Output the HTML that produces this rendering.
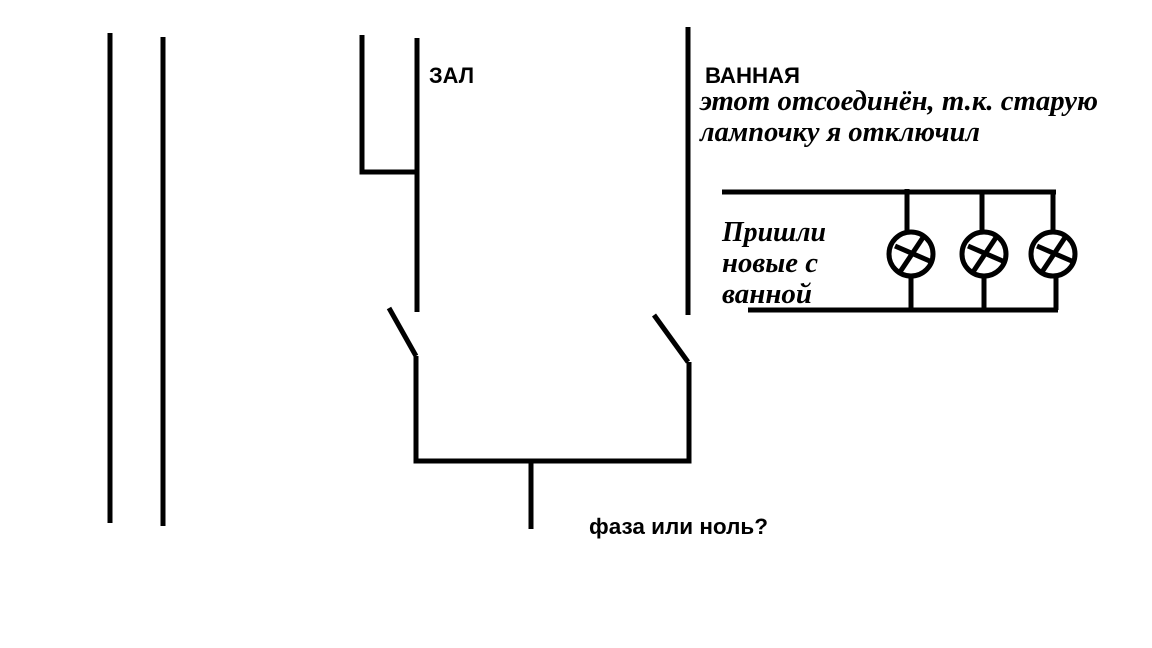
<!DOCTYPE html>
<html><head><meta charset="utf-8"><style>
html,body{margin:0;padding:0;background:#fff;width:1152px;height:648px;overflow:hidden}
</style></head><body>
<svg width="1152" height="648" xmlns="http://www.w3.org/2000/svg">
<g stroke="#000" stroke-width="5" fill="none" stroke-linecap="butt">
<line x1="110" y1="33" x2="110" y2="523"/>
<line x1="163" y1="37" x2="163" y2="526"/>
<polyline points="362,35 362,172 418,172"/>
<line x1="417" y1="38" x2="417" y2="312"/>
<line x1="688" y1="27" x2="688" y2="315"/>
<line x1="389" y1="308" x2="416" y2="356"/>
<line x1="654" y1="315" x2="688" y2="362"/>
<polyline points="416,356 416,461 689,461 689,362"/>
<line x1="531" y1="461" x2="531" y2="529"/>
<line x1="722" y1="192" x2="1056" y2="192"/>
<line x1="748" y1="310" x2="1058" y2="310"/>
<line x1="907" y1="189" x2="907" y2="232"/>
<line x1="982" y1="192" x2="982" y2="232"/>
<line x1="1053" y1="192" x2="1053" y2="232"/>
<line x1="911" y1="276" x2="911" y2="310"/>
<line x1="984" y1="276" x2="984" y2="310"/>
<line x1="1056" y1="276" x2="1056" y2="310"/>
<circle cx="911" cy="254" r="22"/>
<circle cx="984" cy="254" r="22"/>
<circle cx="1053" cy="254" r="22"/>
<line x1="895" y1="246" x2="932" y2="262"/><line x1="900" y1="272" x2="924" y2="236"/>
<line x1="968" y1="246" x2="1005" y2="262"/><line x1="973" y1="272" x2="997" y2="236"/>
<line x1="1037" y1="246" x2="1074" y2="262"/><line x1="1042" y1="272" x2="1066" y2="236"/>
</g>
<g font-family="Liberation Sans, DejaVu Sans, sans-serif" font-weight="bold" font-size="22" fill="#000">
<text x="429" y="83" textLength="45" lengthAdjust="spacingAndGlyphs">ЗАЛ</text>
<text x="705" y="83" textLength="95" lengthAdjust="spacingAndGlyphs">ВАННАЯ</text>
<text x="589" y="534" textLength="179" lengthAdjust="spacingAndGlyphs">фаза или ноль?</text>
</g>
<g font-family="Liberation Serif, DejaVu Serif, serif" font-weight="bold" font-style="italic" font-size="28" fill="#000">
<text x="700" y="110" textLength="398" lengthAdjust="spacingAndGlyphs">этот отсоединён, т.к. старую</text>
<text x="700" y="141" textLength="280" lengthAdjust="spacingAndGlyphs">лампочку я отключил</text>
<text x="722" y="241" textLength="104" lengthAdjust="spacingAndGlyphs">Пришли</text>
<text x="722" y="272" textLength="96" lengthAdjust="spacingAndGlyphs">новые с</text>
<text x="722" y="303" textLength="90" lengthAdjust="spacingAndGlyphs">ванной</text>
</g>
</svg>
</body></html>
